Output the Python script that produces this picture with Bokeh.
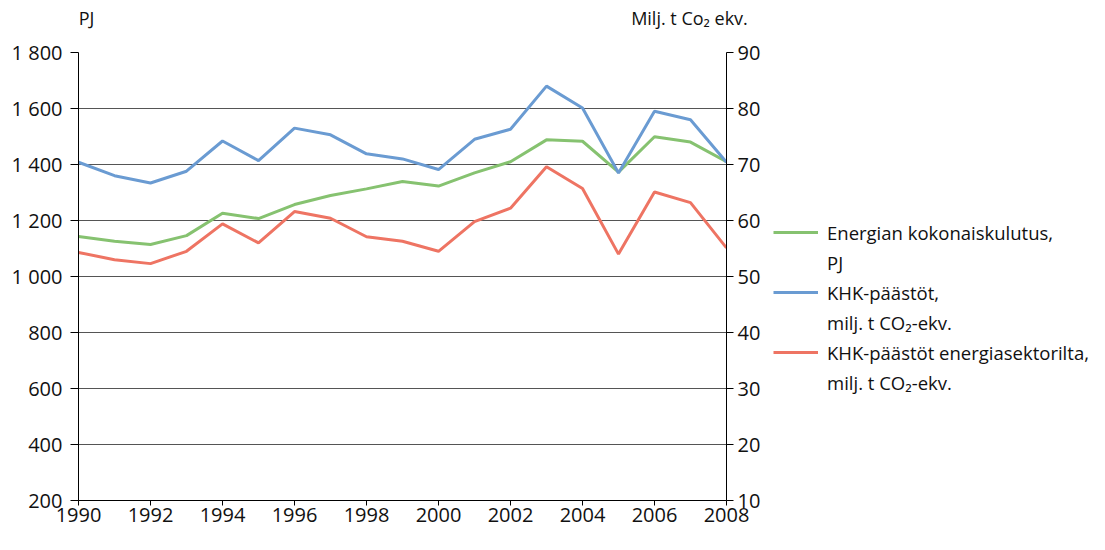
from bokeh.plotting import figure
from bokeh.layouts import row
from bokeh.models import Range1d, LinearAxis, FixedTicker, Legend, LegendItem
from bokeh.embed import file_html
from bokeh.resources import INLINE

years = list(range(1990, 2009))
energy_pj = [1143, 1126, 1114, 1146, 1226, 1207, 1257, 1289, 1313, 1339,
             1323, 1370, 1410, 1488, 1483, 1373, 1499, 1480, 1410]
khk_total = [70.4, 68.0, 66.7, 68.8, 74.2, 70.7, 76.5, 75.3, 71.9, 71.0,
             69.1, 74.5, 76.3, 84.0, 80.1, 68.5, 79.5, 78.0, 70.4]
khk_energy = [54.3, 53.0, 52.3, 54.5, 59.4, 56.0, 61.6, 60.4, 57.1, 56.3,
              54.5, 59.8, 62.2, 69.6, 65.7, 54.0, 65.1, 63.2, 55.1]

left_ticks = [200, 400, 600, 800, 1000, 1200, 1400, 1600, 1800]
left_labels = ["200", "400", "600", "800", "1 000", "1 200", "1 400", "1 600", "1 800"]
right_ticks = [10, 20, 30, 40, 50, 60, 70, 80, 90]
x_ticks = [1990, 1992, 1994, 1996, 1998, 2000, 2002, 2004, 2006, 2008]

legend_labels = ["Energian kokonaiskulutus,", "PJ",
                 "KHK-päästöt,", "milj. t CO₂-ekv.",
                 "KHK-päästöt energiasektorilta,", "milj. t CO₂-ekv."]
left_title = "PJ"
right_title = "Milj. t Co₂ ekv."

GREEN = "#86c270"
BLUE = "#6a9bd2"
RED = "#ee7463"
FONT = "Open Sans"
TXT = "#111111"

TOTAL_W, H = 1089, 534
W = 770
FL, FR, FT, FB = 78, 726, 52, 500
PX_PER_YEAR = (FR - FL) / 18.0

p = figure(width=W, height=H, output_backend="svg", toolbar_location=None,
           x_range=Range1d(1990, 2008), y_range=Range1d(200, 1800),
           min_border_left=FL, min_border_right=W - FR,
           min_border_top=FT, min_border_bottom=H - FB,
           background_fill_color="white", border_fill_color="white")
p.outline_line_color = None
p.extra_y_ranges = {"co2": Range1d(10, 90)}

# axes
xa = p.xaxis[0]
xa.ticker = FixedTicker(ticks=x_ticks)
ya = p.yaxis[0]
ya.ticker = FixedTicker(ticks=left_ticks)
ya.major_label_overrides = {t: l for t, l in zip(left_ticks, left_labels)}
ra = LinearAxis(y_range_name="co2", ticker=FixedTicker(ticks=right_ticks))
p.add_layout(ra, "right")

for ax in (xa, ya, ra):
    ax.axis_line_color = "#000000"
    ax.axis_line_width = 1
    ax.major_tick_line_color = "#000000"
    ax.major_tick_in = 0
    ax.minor_tick_line_color = None
    ax.major_label_text_font = FONT
    ax.major_label_text_font_size = "20px"
    ax.major_label_text_color = TXT
xa.major_tick_out = 5
xa.major_label_standoff = 2
ya.major_tick_out = 8
ya.major_label_standoff = 8
ra.major_tick_out = 7
ra.major_label_standoff = 4

# axis titles as labels of an invisible top axis (centres in pixels -> data x)
title_pos = [1990 + (86 - FL) / PX_PER_YEAR, 1990 + (689 - FL) / PX_PER_YEAR]
ta = LinearAxis(ticker=FixedTicker(ticks=title_pos),
                major_label_overrides={title_pos[0]: left_title, title_pos[1]: right_title})
ta.axis_line_color = None
ta.major_tick_line_color = None
ta.minor_tick_line_color = None
ta.major_label_standoff = 17
ta.major_label_text_font = FONT
ta.major_label_text_font_size = "18px"
ta.major_label_text_color = TXT
p.add_layout(ta, "above")

p.xgrid.grid_line_color = None
p.ygrid.grid_line_color = "#555555"
p.ygrid.grid_line_width = 1

p.line(years, energy_pj, line_color=GREEN, line_width=3)
p.line(years, khk_total, line_color=BLUE, line_width=3, y_range_name="co2")
p.line(years, khk_energy, line_color=RED, line_width=3, y_range_name="co2")

# legend panel to the right (its own renderers lie outside its view)
LW = TOTAL_W - W
q = figure(width=LW, height=H, output_backend="svg", toolbar_location=None,
           x_range=Range1d(0, 1), y_range=Range1d(0, 1),
           x_axis_location=None, y_axis_location=None,
           min_border_left=0, min_border_right=0, min_border_top=0,
           min_border_bottom=0, background_fill_color="white",
           border_fill_color="white")
q.grid.visible = False
q.outline_line_color = None
lg = q.line(years, energy_pj, line_color=GREEN, line_width=3)
lb = q.line(years, khk_total, line_color=BLUE, line_width=3)
lr = q.line(years, khk_energy, line_color=RED, line_width=3)

rend = [[lg], [], [lb], [], [lr], []]
items = [LegendItem(label=lab, renderers=rr) for lab, rr in zip(legend_labels, rend)]
ITEM_H = 30
leg = Legend(items=items, location=(773 - W, 103),
             glyph_width=45, glyph_height=ITEM_H,
             label_height=ITEM_H, label_standoff=9, spacing=0, padding=0, margin=0,
             border_line_color=None, background_fill_alpha=0,
             label_text_font=FONT, label_text_font_size="18.5px",
             label_text_color=TXT)
q.add_layout(leg)

layout = row(p, q, spacing=0)
open("out.html", "w").write(file_html(layout, INLINE))
